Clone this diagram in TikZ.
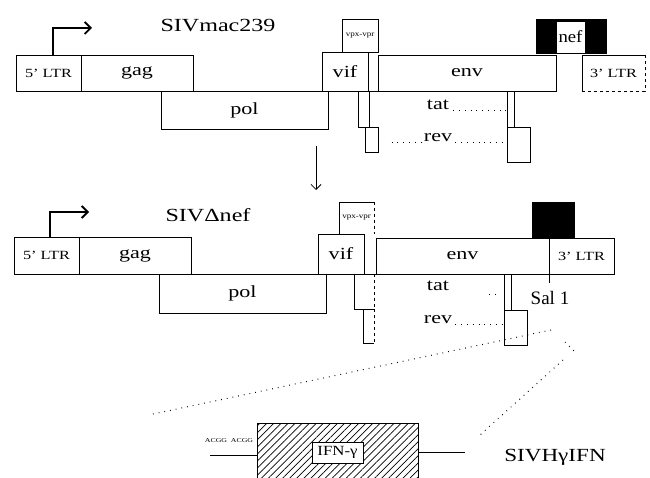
\documentclass[tikz,border=0pt]{standalone}
\usepackage{fontspec}
\setmainfont{Liberation Serif}
\usepackage{graphicx}
\usetikzlibrary{patterns.meta,arrows.meta}
\newcommand{\wide}[2][1.3]{\scalebox{#1}[1]{#2}}
\begin{document}
\begin{tikzpicture}[x=1pt,y=-1pt,
  gbox/.style={draw, line width=0.9pt, anchor=north west, inner sep=0pt, outer sep=0pt},
  ebox/.style={anchor=north west, inner sep=0pt, outer sep=0pt},
  lab/.style={font=\fontsize{17}{19}\selectfont},
  tlab/.style={font=\fontsize{17}{19}\selectfont, inner sep=0pt},
  ltrlab/.style={font=\fontsize{12.5}{14}\selectfont},
  vpxlab/.style={font=\fontsize{7.5}{8}\selectfont},
  ttl/.style={font=\fontsize{18.5}{20}\selectfont, inner sep=0pt},
  dotline/.style={line width=1pt, dash pattern=on 0.8pt off 5pt},
  thin/.style={line width=0.9pt},
  prom/.style={line width=1.8pt, -{Straight Barb[length=6pt,width=12pt]}}]
\useasboundingbox (0,0) rectangle (650,478);

% ---------------- SIVmac239 ----------------
\node[ttl] (t1) at (218,26) {\wide{SIVmac239}};
\node[gbox,ltrlab,minimum width=65,minimum height=36] (ltrA) at (16,55) {\wide{5' LTR}};
\node[gbox,lab,minimum width=112,minimum height=36] (gagA) at (81,55) {\wide{gag}};
\node[gbox,lab,minimum width=167,minimum height=38] (polA) at (161,91) {\wide{pol}};
\node[gbox,lab,minimum width=46,minimum height=39] (vifA) at (322,52) {\wide{vif}};
\node[gbox,vpxlab,minimum width=36,minimum height=33] (vpxA) at (342,19) {\wide[1.2]{vpx-vpr}};
\node[gbox,minimum width=11,minimum height=36] (s1A) at (358,91) {};
\node[gbox,minimum width=13,minimum height=25] (s2A) at (365,127) {};
\node[gbox,lab,minimum width=178,minimum height=36] (envA) at (378,55) {\wide{env}};
\node[gbox,minimum width=7,minimum height=36] (tatA) at (507,91) {};
\node[gbox,minimum width=23,minimum height=35] (revA) at (507,127) {};
\node[ebox,fill=black,minimum width=71,minimum height=35] (nefbA) at (536,19) {};
\node[gbox,lab,fill=white,draw=white,minimum width=27,minimum height=30] (nefA) at (557,22) {\wide[1.1]{nef}};
\node[ebox,ltrlab,minimum width=63,minimum height=36] (ltr3A) at (582,55) {\wide{3' LTR}};
\draw[thin] (ltr3A.south west) -- (ltr3A.north west) -- (ltr3A.north east);
\draw[thin,dashed] (ltr3A.north east) -- (ltr3A.south east) -- (ltr3A.south west);
\draw[thin] (ltrA.south west) -- (envA.south east);
\draw[thin] (envA.north east) -- (envA.south east);
\draw[prom] ([xshift=4.5pt]ltrA.north) |- ([xshift=43.5pt,yshift=27pt]ltrA.north);
\node[tlab] (tatLA) at (438,105) {\wide{tat}};
\draw[dotline] ([xshift=4pt]tatLA.south east) -- (tatLA.south east -| tatA.west);
\node[tlab] (revLA) at (438,138) {\wide{rev}};
\draw[dotline] ([xshift=-32pt]revLA.south west) -- ([xshift=-2pt]revLA.south west);
\draw[dotline] ([xshift=3pt]revLA.south east) -- (revLA.south east -| revA.west);

% arrow between constructs
\coordinate (da1) at (316,146);
\coordinate (da2) at (316,190);
\draw[line width=0.8pt,-{Straight Barb[length=5pt,width=10pt]}] (da1) -- (da2);

% ---------------- SIVdelta nef ----------------
\node[ttl] (t2) at (208,215) {\wide{SIVΔnef}};
\node[gbox,ltrlab,minimum width=65,minimum height=37] (ltrB) at (14,237) {\wide{5' LTR}};
\node[gbox,lab,minimum width=112,minimum height=37] (gagB) at (79,237) {\wide{gag}};
\node[gbox,lab,minimum width=167,minimum height=39] (polB) at (159,274) {\wide{pol}};
\node[gbox,lab,minimum width=46,minimum height=40] (vifB) at (318,234) {\wide{vif}};
\node[ebox,vpxlab,minimum width=35,minimum height=32] (vpxB) at (339,202) {\wide[1.2]{vpx-vpr}};
\draw[thin] (vpxB.south west) |- (vpxB.north east);
\draw[thin,dashed] (vpxB.north east) -- (vpxB.south east);
\node[ebox,minimum width=20,minimum height=35] (s1B) at (354,274) {};
\draw[thin] (s1B.north east) -| (s1B.south west) -- (s1B.south east);
\draw[thin,dashed] (s1B.north east) -- (s1B.south east);
\node[ebox,minimum width=11,minimum height=34] (s2B) at (363,309) {};
\draw[thin] (s2B.north west) |- (s2B.south east);
\draw[thin,dashed] (s2B.north east) -- (s2B.south east);
\node[gbox,lab,minimum width=173,minimum height=36] (envB) at (376,238) {\wide{env}};
\node[gbox,ltrlab,minimum width=65,minimum height=36] (ltr3B) at (549,238) {\wide{3' LTR}};
\node[ebox,fill=black,minimum width=43,minimum height=36] (nefB) at (532,202) {};
\draw[thin] (ltr3B.north west) -- ([yshift=-9pt]ltr3B.south west);
\draw[thin] (ltrB.south west) -- (ltr3B.south east);
\draw[prom] ([xshift=3.5pt]ltrB.north) |- ([xshift=42.5pt,yshift=25pt]ltrB.north);
\node[gbox,minimum width=7,minimum height=36] (tatB) at (504,274) {};
\node[gbox,minimum width=23,minimum height=35] (revB) at (504,310) {};
\node[tlab] (tatLB) at (438,286) {\wide{tat}};
\draw[dotline] ([xshift=40pt,yshift=-3pt]tatLB.south east) -- ([xshift=48pt,yshift=-3pt]tatLB.south east);
\node[tlab] (revLB) at (438,320) {\wide{rev}};
\draw[dotline] ([xshift=3pt]revLB.south east) -- (revLB.south east -| revB.west);
\node[font=\fontsize{19}{21}\selectfont, inner sep=0pt] (sal) at (550,298) {Sal 1};

% dotted zoom lines
\coordinate (d1a) at (551,330);
\coordinate (d1b) at (153,414);
\draw[dotline] (d1a) -- (d1b);
\coordinate (d2a) at (565,342);
\coordinate (d2b) at (577,354);
\draw[dotline] (d2a) -- (d2b);
\coordinate (d3a) at (563,360);
\coordinate (d3b) at (480,435);
\draw[dotline] (d3a) -- (d3b);

% ---------------- SIVHgammaIFN ----------------
\node[ebox,draw,line width=0.9pt,minimum width=161,minimum height=60,
      pattern={Lines[angle=45,distance=5pt,line width=0.7pt]}] (hatch) at (257,423) {};
\node[gbox,fill=white,font=\fontsize{14}{16}\selectfont,minimum width=51,minimum height=21] (ifn) at (312,442) {\wide[1.2]{IFN-γ}};
\coordinate (la) at (210,455);
\draw[thin] (la) -- (la -| hatch.west);
\coordinate (rb) at (465,452);
\draw[thin] (rb -| hatch.east) -- (rb);
\node[font=\fontsize{6}{7}\selectfont, inner sep=0pt] (acg) at (229,441) {\wide{ACGG\enspace ACGG}};
\node[ttl] (t3) at (555,457) {\wide[1.25]{SIVHγIFN}};
\end{tikzpicture}
\end{document}
